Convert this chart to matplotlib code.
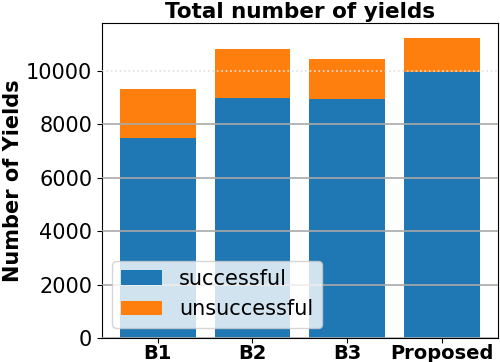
import matplotlib
matplotlib.use("Agg")
import matplotlib.pyplot as plt
import numpy as np

methods = ["B1", "B2", "B3", "Proposed"]
successful = [7490, 8990, 8950, 9960]
unsuccessful = [1830, 1830, 1500, 1270]

fig, ax = plt.subplots(figsize=(5, 3.62), dpi=100)
x = np.arange(len(methods))
ax.bar(x, successful, label="successful", color="#1f77b4")
ax.bar(x, unsuccessful, bottom=successful, label="unsuccessful", color="#ff7f0e")

ax.set_xticks(x)
ax.set_xticklabels(methods, fontsize=14, fontweight="bold")
ax.tick_params(axis="x", pad=1)
ax.tick_params(axis="y", labelsize=15)
ax.set_ylabel("Number of Yields", fontsize=15, fontweight="bold", labelpad=2)
ax.set_title("Total number of yields", fontsize=15.5, fontweight="bold", pad=4)

ax.set_axisbelow(False)
ax.yaxis.grid(True, color="darkgray", linewidth=1.2)
for t, gl in zip(ax.get_yticks(), ax.get_ygridlines()):
    if t >= 10000:
        gl.set_linestyle(":")
        gl.set_color("#e0e0e0")
        gl.set_zorder(0)

ax.legend(loc="lower left", fontsize=15, handlelength=2.0)

plt.subplots_adjust(left=0.204, right=0.995, top=0.936, bottom=0.066)
plt.savefig("out.png")
